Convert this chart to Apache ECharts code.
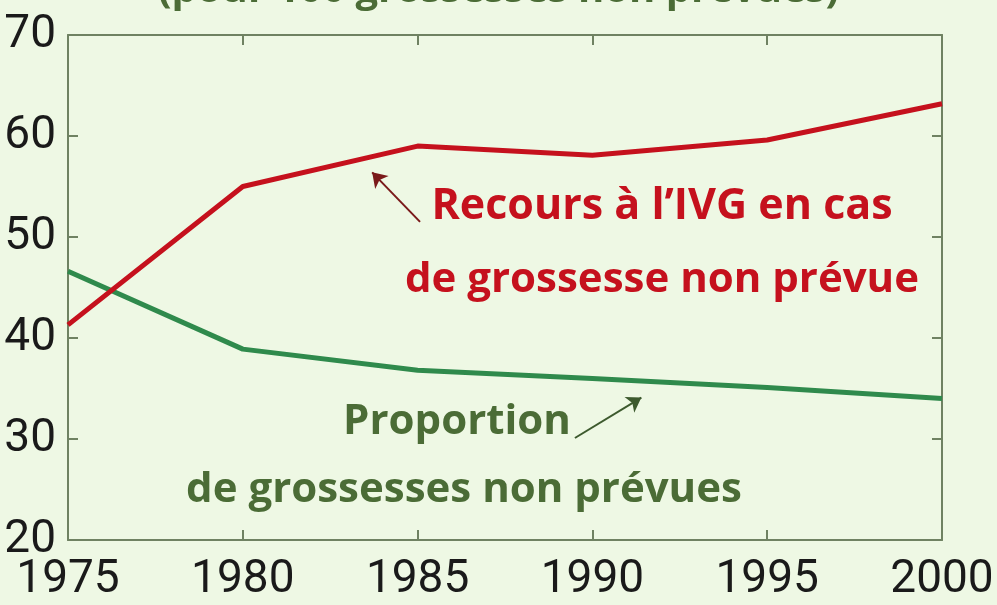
<!DOCTYPE html>
<html>
<head>
<meta charset="utf-8">
<script src="https://cdn.jsdelivr.net/npm/echarts@6/dist/echarts.min.js"></script>
<style>
  html, body { margin: 0; padding: 0; background: #eef8e4; }
  #chart { width: 997px; height: 605px; }
</style>
</head>
<body>
<div id="chart"></div>
<script>
// données
const years = [1975, 1980, 1985, 1990, 1995, 2000]
const ivg = [41.3, 55, 59, 58.1, 59.6, 63.2]       // recours à l'IVG (pour 100 grossesses non prévues)
const nonPrevues = [46.6, 38.9, 36.8, 36, 35.1, 34] // proportion de grossesses non prévues
const yTicks = [20, 30, 40, 50, 60, 70]

const red = '#c5111d'
const green = '#2f8a4c'
const textGreen = '#4b6c36'
const axisColor = '#6f8262'
const labelFont = 'Roboto, "Liberation Sans", sans-serif'
const boldFont = '"Open Sans", Lato, sans-serif'

const chart = echarts.init(document.getElementById('chart'))

// axe commun : ticks vers l'intérieur, pas de grille
const xBase = {
  type: 'value',
  min: years[0],
  max: years[years.length - 1],
  interval: 5,
  splitLine: { show: false },
  axisLine: { show: true, lineStyle: { color: axisColor, width: 2 } },
  axisTick: { show: true, inside: true, length: 10, lineStyle: { color: axisColor, width: 2 } }
}
const yBase = {
  type: 'value',
  min: yTicks[0],
  max: yTicks[yTicks.length - 1],
  interval: 10,
  splitLine: { show: false },
  axisLine: { show: true, lineStyle: { color: axisColor, width: 2 } },
  axisTick: { show: true, inside: true, length: 10, lineStyle: { color: axisColor, width: 2 } }
}
const numLabel = { color: '#1a1a1a', fontSize: 46, fontFamily: labelFont }

const option = {
  backgroundColor: '#eef8e4',
  animation: false,
  grid: { left: 68, right: 55, top: 35, bottom: 65, outerBoundsMode: 'none' },
  xAxis: [
    Object.assign({}, xBase, {
      position: 'bottom',
      axisLabel: Object.assign({}, numLabel, { margin: 17, formatter: v => String(v) })
    }),
    Object.assign({}, xBase, { position: 'top', axisLabel: { show: false } })
  ],
  yAxis: [
    Object.assign({}, yBase, {
      position: 'left',
      axisLabel: Object.assign({}, numLabel, { margin: 12 })
    }),
    Object.assign({}, yBase, { position: 'right', axisLabel: { show: false } })
  ],
  series: [
    {
      name: 'Recours à l\u2019IVG',
      type: 'line',
      data: years.map((y, i) => [y, ivg[i]]),
      symbol: 'none',
      lineStyle: { color: red, width: 5 },
      z: 3,
      // flèche vers la courbe
      markLine: {
        silent: true,
        symbol: ['none', 'arrow'],
        symbolSize: 14,
        label: { show: false },
        lineStyle: { color: '#7a1a1a', width: 2, type: 'solid' },
        data: [[{ coord: [1985.07, 51.5] }, { coord: [1983.7, 56.4] }]]
      }
    },
    {
      name: 'Proportion',
      type: 'line',
      data: years.map((y, i) => [y, nonPrevues[i]]),
      symbol: 'none',
      lineStyle: { color: green, width: 5 },
      z: 2,
      markLine: {
        silent: true,
        symbol: ['none', 'arrow'],
        symbolSize: 14,
        label: { show: false },
        lineStyle: { color: '#3d5a2e', width: 2, type: 'solid' },
        data: [[{ coord: [1989.5, 30.1] }, { coord: [1991.4, 34.1] }]]
      }
    }
  ],
  graphic: [
    {
      type: 'text', left: 'center', top: -29,
      style: { text: '(pour 100 grossesses non prévues)', fill: textGreen, font: 'bold 40px ' + boldFont }
    },
    {
      type: 'text', x: 662, y: 207,
      style: { text: 'Recours à l\u2019IVG en cas', fill: red, font: 'bold 43px ' + boldFont, align: 'center', verticalAlign: 'middle' }
    },
    {
      type: 'text', x: 662, y: 280,
      style: { text: 'de grossesse non prévue', fill: red, font: 'bold 42px ' + boldFont, align: 'center', verticalAlign: 'middle' }
    },
    {
      type: 'text', x: 457, y: 422,
      style: { text: 'Proportion', fill: textGreen, font: 'bold 42px ' + boldFont, align: 'center', verticalAlign: 'middle' }
    },
    {
      type: 'text', x: 464, y: 490,
      style: { text: 'de grossesses non prévues', fill: textGreen, font: 'bold 42px ' + boldFont, align: 'center', verticalAlign: 'middle' }
    }
  ]
}

chart.setOption(option)
</script>
</body>
</html>
